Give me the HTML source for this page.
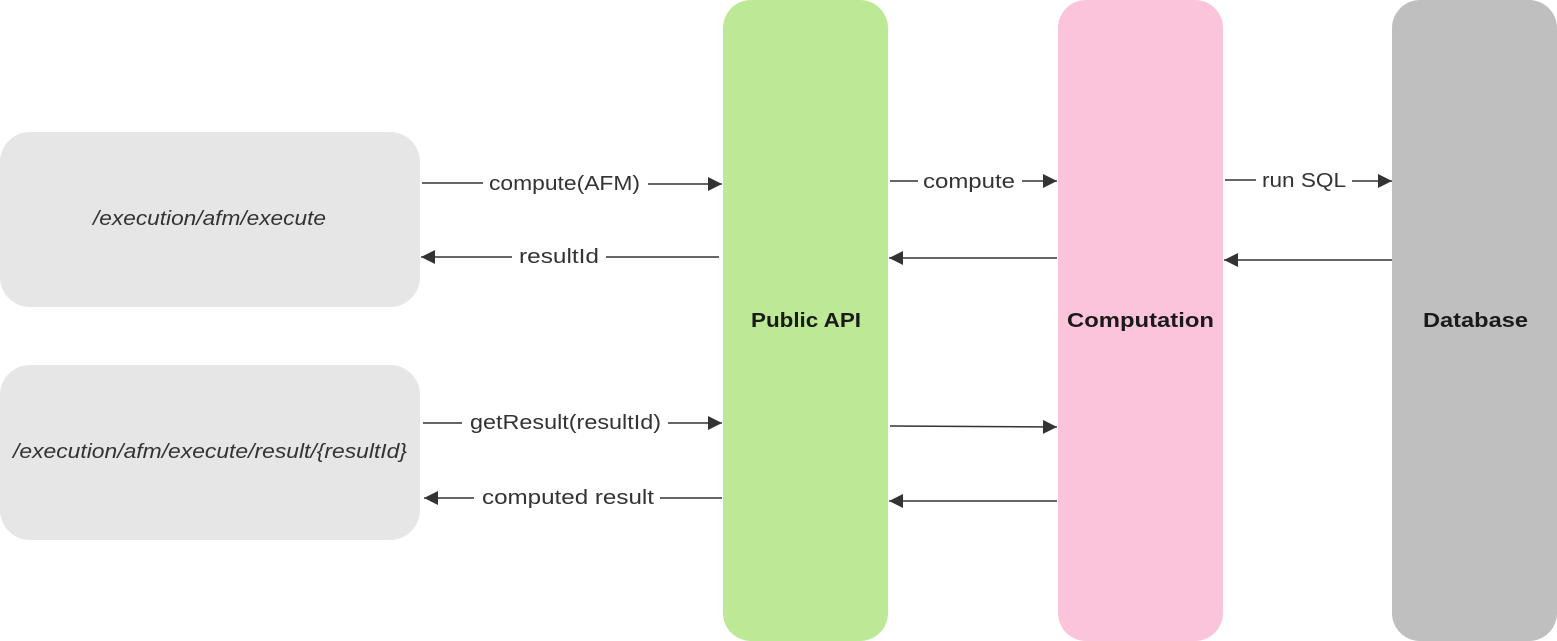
<!DOCTYPE html>
<html><head><meta charset="utf-8"><style>
html,body{margin:0;padding:0;background:#fff;}
svg{display:block;}
text{font-family:"Liberation Sans",sans-serif;fill:#333;font-size:20px;}
text.b{font-weight:bold;fill:#1a1a1a;}
</style></head><body>
<svg width="1557" height="641" viewBox="0 0 1557 641" xmlns="http://www.w3.org/2000/svg">
<defs>
<marker id="a" viewBox="0 0 10 10" refX="10" refY="5" markerWidth="16" markerHeight="14" markerUnits="userSpaceOnUse" orient="auto">
<path d="M0,0 L10,5 L0,10 z" fill="#333"/></marker>
</defs>
<rect x="0" y="132" width="420" height="175" rx="30" fill="#e6e6e6"/>
<rect x="0" y="365" width="420" height="175" rx="30" fill="#e6e6e6"/>
<rect x="723" y="0" width="165" height="641" rx="28" fill="#bde996"/>
<rect x="1058" y="0" width="165" height="641" rx="28" fill="#fcc4da"/>
<rect x="1392" y="0" width="165" height="641" rx="28" fill="#bfbfbf"/>
<text x="93" y="225" textLength="233" lengthAdjust="spacingAndGlyphs" font-style="italic">/execution/afm/execute</text>
<text x="13" y="458" textLength="394" lengthAdjust="spacingAndGlyphs" font-style="italic">/execution/afm/execute/result/{resultId}</text>
<text class="b" x="751" y="327" textLength="110" lengthAdjust="spacingAndGlyphs">Public API</text>
<text class="b" x="1067" y="327" textLength="147" lengthAdjust="spacingAndGlyphs">Computation</text>
<text class="b" x="1423" y="327" textLength="105" lengthAdjust="spacingAndGlyphs">Database</text>
<g stroke="#333" stroke-width="1.6" fill="none">
<path d="M422,183 H483 M648,184 H722" marker-end="url(#a)"/>
<path d="M719,257 H606 M512,257 H421" marker-end="url(#a)"/>
<path d="M423,423 H462 M668,423 H722" marker-end="url(#a)"/>
<path d="M722,498 H660 M474,498 H424" marker-end="url(#a)"/>
<path d="M890,181 H918 M1022,181 H1057" marker-end="url(#a)"/>
<path d="M1057,258 H889" marker-end="url(#a)"/>
<path d="M890,426 L1057,427" marker-end="url(#a)"/>
<path d="M1057,501 H889" marker-end="url(#a)"/>
<path d="M1225,180 H1256 M1352,181 H1392" marker-end="url(#a)"/>
<path d="M1392,260 H1224" marker-end="url(#a)"/>
</g>
<text x="489" y="190" textLength="151" lengthAdjust="spacingAndGlyphs">compute(AFM)</text>
<text x="519" y="263" textLength="80" lengthAdjust="spacingAndGlyphs">resultId</text>
<text x="470" y="429" textLength="191" lengthAdjust="spacingAndGlyphs">getResult(resultId)</text>
<text x="482" y="504" textLength="172" lengthAdjust="spacingAndGlyphs">computed result</text>
<text x="923" y="188" textLength="92" lengthAdjust="spacingAndGlyphs">compute</text>
<text x="1262" y="187" textLength="84" lengthAdjust="spacingAndGlyphs">run SQL</text>
</svg>
</body></html>
